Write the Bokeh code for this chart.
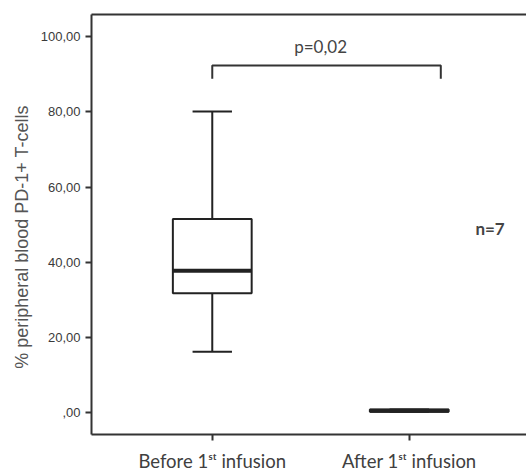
from bokeh.plotting import figure
from bokeh.models import Range1d, FixedTicker, LinearAxis
from bokeh.core.properties import value
from bokeh.embed import file_html
from bokeh.resources import INLINE

# ---- data ----
categories = ["Before 1ˢᵗ infusion", "After 1ˢᵗ infusion"]
whisker_low = [16.2, 0.2]
q1 = [31.7, 0.2]
median = [37.7, 0.45]
q3 = [51.5, 0.8]
whisker_high = [80.1, 0.8]
y_ticks = [0, 20, 40, 60, 80, 100]
y_tick_labels = [",00", "20,00", "40,00", "60,00", "80,00", "100,00"]
p_text = "p=0,02"
p_text_x = 1.55
bracket_x = [1.0, 2.16]
bracket_top = 92.3
bracket_bottom = 88.8
n_text = "n=7"
n_pos = (2.41, 48.9)

xs = [i + 1 for i in range(len(categories))]
box_w = 0.4
cap_w = 0.2
ink = "#222222"

p = figure(width=526, height=475, output_backend="svg", toolbar_location=None,
           x_range=Range1d(0.387, 2.595), y_range=Range1d(-5.85, 105.9),
           min_border_left=91, min_border_right=0, min_border_top=14, min_border_bottom=41)
p.outline_line_color = None
p.grid.visible = False
p.background_fill_color = "white"
p.border_fill_color = "white"

# whiskers
p.segment(x0=xs, y0=q3, x1=xs, y1=whisker_high, line_color=ink, line_width=2)
p.segment(x0=xs, y0=whisker_low, x1=xs, y1=q1, line_color=ink, line_width=2)
p.segment(x0=[x - cap_w / 2 for x in xs], y0=whisker_high, x1=[x + cap_w / 2 for x in xs], y1=whisker_high,
          line_color=ink, line_width=2)
p.segment(x0=[x - cap_w / 2 for x in xs], y0=whisker_low, x1=[x + cap_w / 2 for x in xs], y1=whisker_low,
          line_color=ink, line_width=2)
# boxes
p.quad(left=[x - box_w / 2 for x in xs], right=[x + box_w / 2 for x in xs], bottom=q1, top=q3,
       fill_color="white", line_color=ink, line_width=2)
# medians
p.segment(x0=[x - box_w / 2 for x in xs], y0=median, x1=[x + box_w / 2 for x in xs], y1=median,
          line_color=ink, line_width=4)

# significance bracket
p.line(x=[bracket_x[0], bracket_x[0], bracket_x[1], bracket_x[1]],
       y=[bracket_bottom, bracket_top, bracket_top, bracket_bottom],
       line_color="#333333", line_width=2)
p.text(x=[p_text_x], y=[bracket_top + 2.4], text=[p_text], text_align="center",
       text_baseline="bottom", text_font=value("Lato"), text_font_size="17px", text_color="#444444")
p.text(x=[n_pos[0]], y=[n_pos[1]], text=[n_text], text_align="center", text_baseline="middle",
       text_font=value("Lato"), text_font_size="17px", text_font_style="bold", text_color="#444444")

# y axis
ya = p.yaxis[0]
ya.ticker = FixedTicker(ticks=y_ticks)
ya.major_label_overrides = {t: l for t, l in zip(y_ticks, y_tick_labels)}
ya.axis_label = "% peripheral blood PD-1+ T-cells" + "\u00a0" * 5
ya.axis_label_text_font = "Liberation Sans"
ya.axis_label_text_font_size = "18px"
ya.axis_label_text_font_style = "normal"
ya.axis_label_text_color = "#555555"
ya.axis_label_standoff = 6
ya.major_label_text_font = "Liberation Sans"
ya.major_label_text_font_size = "13px"
ya.major_label_text_color = "#3a3a3a"
ya.major_label_standoff = 5
ya.axis_line_width = 2
ya.axis_line_color = "#333333"
ya.major_tick_line_width = 2
ya.major_tick_line_color = "#333333"
ya.major_tick_out = 6
ya.major_tick_in = 0
ya.minor_tick_line_color = None

# x axis
xa = p.xaxis[0]
xa.ticker = FixedTicker(ticks=xs)
xa.major_label_overrides = {x: c for x, c in zip(xs, categories)}
xa.major_label_text_font = "Lato"
xa.major_label_text_font_size = "18.5px"
xa.major_label_text_color = "#404040"
xa.major_label_standoff = 9
xa.axis_line_width = 2
xa.axis_line_color = "#333333"
xa.major_tick_line_width = 2
xa.major_tick_line_color = "#333333"
xa.major_tick_out = 6
xa.major_tick_in = 0
xa.minor_tick_line_color = None

# top border
top = LinearAxis(ticker=FixedTicker(ticks=[]), major_label_text_font_size="0px",
                 axis_line_width=2, axis_line_color="#333333", minor_tick_line_color=None,
                 major_tick_line_color=None)
p.add_layout(top, "above")

open("out.html", "w").write(file_html(p, INLINE))
